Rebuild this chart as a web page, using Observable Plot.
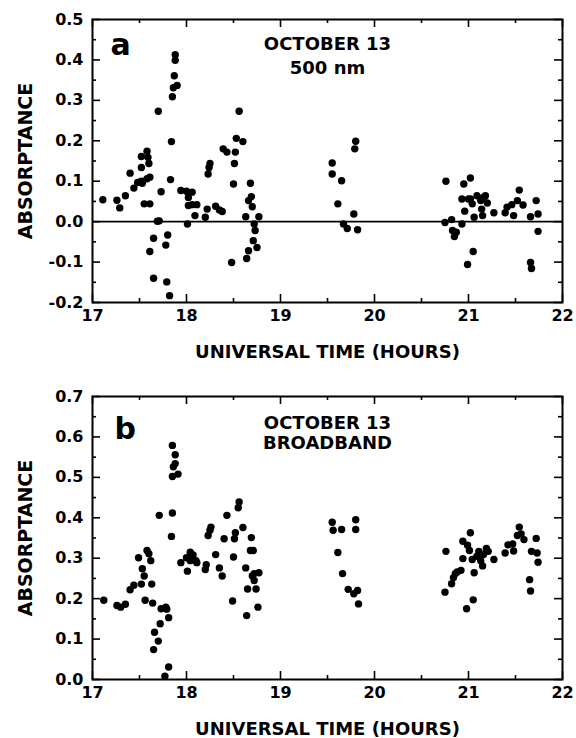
<!DOCTYPE html>
<html>
<head>
<meta charset="utf-8">
<script src="https://cdn.jsdelivr.net/npm/d3@7"></script>
<script src="https://cdn.jsdelivr.net/npm/@observablehq/plot@0.6"></script>
<style>
  html, body { margin: 0; padding: 0; background: #fff; }
  #chart { width: 576px; }
  #chart svg { display: block; }
</style>
</head>
<body>
<div id="chart"></div>
<script>
// ---- Data ----
const aTime = [
  17.11,17.26,17.29,17.35,17.40,17.44,17.48,17.52,17.53,17.52,17.52,17.58,17.59,17.60,17.58,17.61,17.55,17.61,
  17.70,17.73,17.69,17.71,17.65,17.61,17.65,17.80,17.78,17.79,17.82,17.83,17.84,17.85,17.86,17.90,17.87,17.88,17.88,
  17.94,18.00,18.06,18.02,18.02,18.06,18.11,18.09,18.01,18.20,18.22,18.23,18.25,18.24,18.31,18.35,18.38,18.39,18.43,
  18.48,18.50,18.51,18.52,18.53,18.56,18.60,18.63,18.64,18.66,18.68,18.66,18.69,18.70,18.72,18.73,18.71,18.75,18.77,
  19.55,19.55,19.65,19.61,19.67,19.71,19.78,19.82,19.79,19.80,
  20.76,20.75,20.82,20.83,20.85,20.87,20.93,20.95,21.02,20.96,20.93,20.99,21.05,21.00,21.02,21.04,21.06,21.09,21.13,
  21.14,21.15,21.18,21.20,21.16,21.27,21.39,21.41,21.46,21.48,21.52,21.54,21.58,21.66,21.66,21.67,21.72,21.74,21.74
];
const aValue = [
  0.054,0.053,0.034,0.064,0.120,0.083,0.097,0.100,0.095,0.161,0.134,0.174,0.159,0.144,0.106,0.110,0.044,0.044,
  0.273,0.074,0.001,0.002,-0.041,-0.074,-0.140,-0.033,-0.058,-0.149,-0.183,0.104,0.198,0.309,0.331,0.337,0.361,0.399,0.413,
  0.077,0.075,0.073,0.060,0.040,0.042,0.042,0.015,-0.006,0.011,0.031,0.118,0.144,0.134,0.038,0.029,0.025,0.180,0.172,
  -0.101,0.093,0.144,0.172,0.206,0.273,0.198,0.012,-0.091,-0.072,0.095,0.052,0.062,0.037,-0.006,-0.022,-0.047,-0.064,0.012,
  0.145,0.118,0.101,0.044,-0.006,-0.017,0.019,-0.020,0.180,0.199,
  0.100,-0.002,0.005,-0.022,-0.037,-0.026,-0.006,0.093,0.108,0.026,0.056,-0.106,-0.074,0.056,0.056,0.044,0.011,0.064,0.052,
  0.031,0.015,0.064,0.046,0.060,0.022,0.022,0.036,0.042,0.015,0.052,0.078,0.041,0.012,-0.101,-0.116,0.052,0.019,-0.024
];

const bTime = [
  17.12,17.26,17.30,17.35,17.40,17.44,17.49,17.53,17.55,17.52,17.58,17.60,17.62,17.63,17.56,17.64,17.73,17.78,17.79,17.81,
  17.72,17.66,17.70,17.65,17.81,17.77,
  17.85,17.88,17.88,17.86,17.85,17.91,17.85,17.84,17.71,
  17.94,18.01,18.00,18.04,18.07,18.10,18.04,18.11,18.21,18.20,18.23,18.26,18.25,18.31,18.35,18.38,18.40,18.43,
  18.49,18.50,18.51,18.52,18.55,18.56,18.60,18.63,18.64,18.65,18.69,18.68,18.71,18.70,18.72,18.74,18.77,18.76,18.72,
  19.55,19.56,19.65,19.61,19.66,19.72,19.78,19.82,19.83,19.80,19.80,
  20.76,20.75,20.82,20.84,20.86,20.88,20.92,20.94,20.99,21.01,21.02,20.94,20.98,21.05,21.06,21.04,21.09,21.11,21.15,21.16,
  21.13,21.19,21.21,21.27,21.39,21.42,21.47,21.48,21.52,21.54,21.56,21.59,21.67,21.65,21.66,21.72,21.73,21.74
];
const bValue = [
  0.196,0.183,0.179,0.186,0.222,0.233,0.301,0.274,0.256,0.236,0.319,0.311,0.294,0.236,0.196,0.189,0.175,0.179,0.174,0.153,
  0.138,0.117,0.095,0.074,0.031,0.008,
  0.579,0.556,0.534,0.526,0.502,0.508,0.412,0.354,0.406,
  0.289,0.268,0.301,0.315,0.308,0.294,0.294,0.289,0.284,0.272,0.356,0.377,0.369,0.309,0.276,0.256,0.348,0.406,
  0.194,0.303,0.348,0.363,0.425,0.439,0.376,0.276,0.158,0.224,0.351,0.319,0.319,0.256,0.245,0.224,0.264,0.179,0.262,
  0.389,0.369,0.371,0.314,0.262,0.223,0.212,0.220,0.187,0.395,0.371,
  0.317,0.216,0.237,0.252,0.262,0.266,0.270,0.342,0.332,0.319,0.363,0.299,0.175,0.197,0.264,0.297,0.305,0.317,0.281,0.309,
  0.294,0.324,0.317,0.297,0.313,0.333,0.335,0.318,0.356,0.377,0.360,0.346,0.317,0.247,0.219,0.349,0.313,0.290
];

const xMajor = [17, 18, 19, 20, 21, 22];
const xMinor = [17.5, 18.5, 19.5, 20.5, 21.5];
const aYMajor = [-0.2, -0.1, 0.0, 0.1, 0.2, 0.3, 0.4, 0.5];
const aYMinor = [-0.15, -0.05, 0.05, 0.15, 0.25, 0.35, 0.45];
const bYMajor = [0.0, 0.1, 0.2, 0.3, 0.4, 0.5, 0.6, 0.7];
const bYMinor = [0.05, 0.15, 0.25, 0.35, 0.45, 0.55, 0.65];

const xLabel = "UNIVERSAL TIME (HOURS)";
const yLabel = "ABSORPTANCE";
const aPanel = "a";
const bPanel = "b";
const aNote = "OCTOBER 13\n500 nm";
const bNote = "OCTOBER 13\nBROADBAND";

// ---- Drawing ----
const FONT = "DejaVu Sans";
const W = 576;
const FRAME_W = 470;
const FRAME_H = 283;
const MAJ = 8, MIN = 4;

function panel({time, value, yDomain, yMajor, yMinor, height, marginTop, marginBottom,
                letter, letterDx, letterDy, note, noteDy, noteLH, zero}) {
  const pts = time.map((t, i) => ({t, v: value[i]}));
  const tickStyle = {stroke: "black", strokeWidth: 1.6};
  return Plot.plot({
    width: W,
    height,
    marginLeft: 92,
    marginRight: 14,
    marginTop,
    marginBottom,
    style: {fontFamily: FONT, fontWeight: "bold", fontSize: "16px", color: "black", background: "white"},
    x: {domain: [17, 22]},
    y: {domain: yDomain},
    marks: [
      zero ? Plot.ruleY([0], {stroke: "black", strokeWidth: 1.6}) : null,
      // inward ticks, top and bottom
      Plot.tickX(xMajor, {x: d => d, insetBottom: FRAME_H - MAJ, ...tickStyle}),
      Plot.tickX(xMajor, {x: d => d, insetTop: FRAME_H - MAJ, ...tickStyle}),
      Plot.tickX(xMinor, {x: d => d, insetBottom: FRAME_H - MIN, ...tickStyle}),
      Plot.tickX(xMinor, {x: d => d, insetTop: FRAME_H - MIN, ...tickStyle}),
      // inward ticks, left and right
      Plot.tickY(yMajor, {y: d => d, insetRight: FRAME_W - MAJ, ...tickStyle}),
      Plot.tickY(yMajor, {y: d => d, insetLeft: FRAME_W - MAJ, ...tickStyle}),
      Plot.tickY(yMinor, {y: d => d, insetRight: FRAME_W - MIN, ...tickStyle}),
      Plot.tickY(yMinor, {y: d => d, insetLeft: FRAME_W - MIN, ...tickStyle}),
      Plot.axisX({ticks: xMajor, tickSize: 0, tickPadding: 7, tickFormat: d => String(d), label: null, fontSize: 16}),
      Plot.axisY({ticks: yMajor, tickSize: 0, tickPadding: 9, tickFormat: d => d.toFixed(1), label: null, fontSize: 16}),
      Plot.frame({stroke: "black", strokeWidth: 2}),
      Plot.dot(pts, {x: "t", y: "v", r: 3.7, fill: "black", stroke: null}),
      Plot.text([letter], {frameAnchor: "top-left", text: d => d, dx: letterDx, dy: letterDy,
        textAnchor: "start", lineAnchor: "bottom", fontSize: 30, fontWeight: "bold"}),
      Plot.text([note], {frameAnchor: "top", text: d => d, dy: noteDy, lineAnchor: "bottom",
        textAnchor: "middle", lineHeight: noteLH, fontSize: 18, fontWeight: "bold"}),
      Plot.text([xLabel], {frameAnchor: "bottom", text: d => d, dy: 55, lineAnchor: "bottom",
        textAnchor: "middle", fontSize: 18, fontWeight: "bold"}),
      Plot.text([yLabel], {frameAnchor: "left", text: d => d, dx: -61, rotate: -90,
        textAnchor: "middle", lineAnchor: "bottom", fontSize: 19, fontWeight: "bold"})
    ]
  });
}

const chart = document.getElementById("chart");
chart.appendChild(panel({
  time: aTime, value: aValue, yDomain: [-0.2, 0.5], yMajor: aYMajor, yMinor: aYMinor,
  height: 370, marginTop: 19, marginBottom: 68,
  letter: aPanel, letterDx: 18, letterDy: 35, note: aNote, noteDy: 54, noteLH: 1.28, zero: true
}));
chart.appendChild(panel({
  time: bTime, value: bValue, yDomain: [0, 0.7], yMajor: bYMajor, yMinor: bYMinor,
  height: 368, marginTop: 26, marginBottom: 59,
  letter: bPanel, letterDx: 22, letterDy: 42, note: bNote, noteDy: 52, noteLH: 1.11, zero: false
}));
</script>
</body>
</html>
